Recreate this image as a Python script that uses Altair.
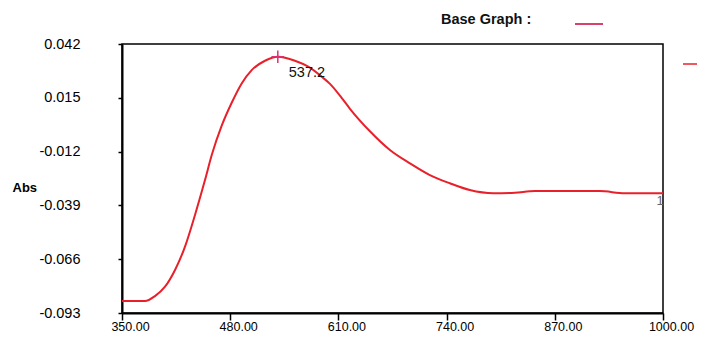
import altair as alt
import pandas as pd

# Spectrum
wavelength = [350, 377.6, 389.6, 401.7, 413.7, 425.7, 437.7, 449.7, 458.0, 469.8,
              481.8, 493.8, 505.8, 521.8, 537.2, 557.8, 573.8, 589.9, 599.9, 613.9,
              623.9, 647.9, 671.9, 695.9, 719.9, 743.9, 767.9, 796, 822, 846,
              924, 954, 1000]
absorbance = [-0.087, -0.087, -0.0845, -0.0798, -0.0714, -0.0597, -0.0438, -0.0263, -0.0135, 0.0010,
              0.0125, 0.0222, 0.0289, 0.0336, 0.0356, 0.0336, 0.0306, 0.0256, 0.0220, 0.0150,
              0.0095, -0.0018, -0.0112, -0.0179, -0.0238, -0.0279, -0.0313, -0.0329, -0.0326, -0.0318,
              -0.0318, -0.0329, -0.0329]

x_ticks = [350, 480, 610, 740, 870, 1000]
y_ticks = [-0.093, -0.066, -0.039, -0.012, 0.015, 0.042]

peak_wl = [537.2]
peak_abs = [0.0356]
peak_label = ["537.2"]

end_wl = [1000]
end_abs = [-0.0329]
end_label = ["1"]

df = pd.DataFrame({"wl": wavelength, "abs": absorbance})
peak = pd.DataFrame({"wl": peak_wl, "abs": peak_abs, "label": peak_label})
end = pd.DataFrame({"wl": end_wl, "abs": end_abs, "label": end_label})
dummy = pd.DataFrame({"d": [0]})

FONT = "Liberation Sans"

x_enc = alt.X("wl:Q", scale=alt.Scale(domain=[350, 1000], nice=False, zero=False),
              axis=alt.Axis(values=x_ticks, format=".2f", title=None, grid=False,
                            tickSize=7, labelPadding=0, labelOffset=8, labelFlush=False,
                            labelOverlap=False, labelBound=False,
                            labelFontSize=12.5, labelFont=FONT, labelColor="#000",
                            domainColor="#000", domainWidth=2, tickColor="#000", tickWidth=1.5))
y_enc = alt.Y("abs:Q", scale=alt.Scale(domain=[-0.093, 0.042], nice=False, zero=False),
              axis=alt.Axis(values=y_ticks, title="Abs", grid=False,
                            labelExpr="replace(format(datum.value, '.3f'), '\u2212', '-')",
                            tickSize=4, labelPadding=38, labelFlush=False, labelOverlap=False,
                            labelFontSize=14.5, labelFont=FONT, labelColor="#000",
                            domainColor="#000", domainWidth=2, tickColor="#000", tickWidth=1.5,
                            titleAngle=0, titleX=-110, titleY=143, titleAlign="left",
                            titleBaseline="middle", titleFont=FONT, titleFontSize=13,
                            titleFontWeight="bold", titleColor="#000"))

line = alt.Chart(df).mark_line(color="#e8202a", strokeWidth=2, interpolate="monotone").encode(
    x=x_enc, y=y_enc)

marker = alt.Chart(peak).mark_point(shape="M-1,0L1,0M0,-1L0,1", size=160,
                                    stroke="#e0306a", strokeWidth=1.5, filled=False,
                                    opacity=1).encode(x="wl:Q", y="abs:Q")

peak_text = alt.Chart(peak).mark_text(align="left", baseline="middle", dx=11, dy=16,
                                      font=FONT, fontSize=14.5, color="#111").encode(
    x="wl:Q", y="abs:Q", text="label:N")

end_text = alt.Chart(end).mark_text(align="center", baseline="middle", dx=-3, dy=8,
                                    font=FONT, fontSize=13, color="#666").encode(
    x="wl:Q", y="abs:Q", text="label:N")

legend_text = alt.Chart(dummy).mark_text(text="Base Graph :", align="left", baseline="middle",
                                         font=FONT, fontSize=14.5, fontWeight="bold",
                                         color="#111").encode(
    x=alt.value(319), y=alt.value(-24))

legend_line = alt.Chart(dummy).mark_rule(color="#d9406a", strokeWidth=2).encode(
    x=alt.value(453), x2=alt.value(481), y=alt.value(-20))

right_line = alt.Chart(dummy).mark_rule(color="#e8202a", strokeWidth=1.5).encode(
    x=alt.value(561), x2=alt.value(583), y=alt.value(20))

chart = alt.layer(line, marker, peak_text, end_text, legend_text, legend_line, right_line).properties(
    width=541, height=269,
    autosize=alt.AutoSizeParams(type="none"),
    padding={"left": 114, "top": 36, "right": 34, "bottom": 21},
    background="white",
).configure_view(stroke="#000", strokeWidth=1.5)

chart.save("out.html", embed_options={"renderer": "svg", "actions": False})
